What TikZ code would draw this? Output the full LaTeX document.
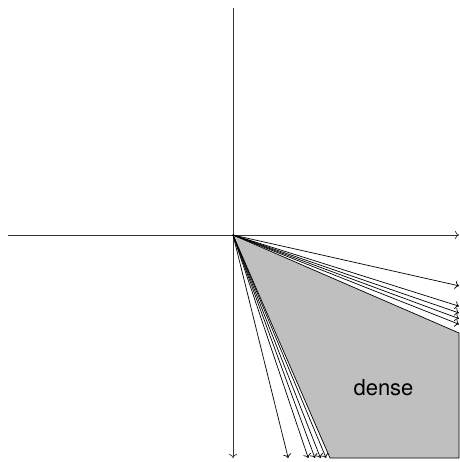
\documentclass[tikz,border=0pt]{standalone}
\usepackage{fontspec}
\setmainfont{TeX Gyre Heros}
\usepackage{tikz}
\usetikzlibrary{arrows.meta}

\begin{document}
\begin{tikzpicture}[x=1pt, y=1pt, >={To[length=4pt,width=8pt]},
	asse/.style={->, line width=0.7pt, draw=black!80},
	raggio/.style={->, line width=0.7pt},
	cono/.style={fill=black!25, draw=black, line width=0.7pt},
	etichetta/.style={font=\fontsize{22}{24}\selectfont, anchor=base}]

	\useasboundingbox (-233,-227) rectangle (226,235);

	% origine e limiti
	\coordinate (o) at (0,0);
	\coordinate (lr) at (226,-98);
	\coordinate (ang) at (226,-223);
	\coordinate (lb) at (97,-223);

	% cono denso
	\draw[cono] (o) -- (lr) -- (ang) -- (lb) -- cycle;

	% assi
	\coordinate (xs) at (-225,0);
	\coordinate (xd) at (226,0);
	\coordinate (ya) at (0,227);
	\coordinate (yb) at (0,-223);
	\draw[asse] (xs) -- (xd);
	\draw[asse] (ya) -- (yb);

	% raggi
	\foreach \s [count=\i] in {0.225,0.315,0.345,0.37,0.395} {
		\coordinate (r\i) at (226,-226*\s);
		\coordinate (b\i) at (223*\s+5,-223);
		\draw[raggio] (o) -- (r\i);
		\draw[raggio] (o) -- (b\i);
	}

	% etichetta
	\node[etichetta] (d) at (150.5,-160) {dense};
\end{tikzpicture}
\end{document}
